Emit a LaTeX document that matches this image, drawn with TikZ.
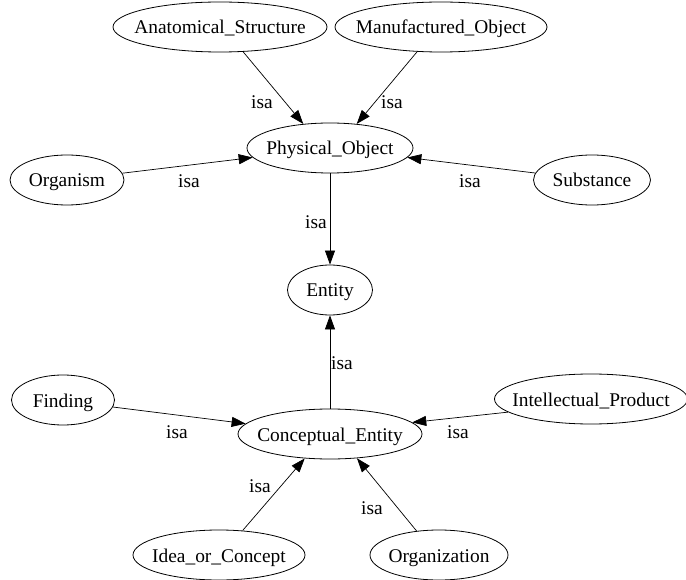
\documentclass[tikz,border=0pt]{standalone}
\usepackage{fontspec}
\setmainfont{Liberation Serif}
\usetikzlibrary{arrows.meta,shapes.geometric}
\newcommand\ntxt[1]{\makebox[0pt]{#1}}
\tikzset{
  ent/.style={draw, ellipse, inner sep=0pt, minimum height=50pt,
    text height=14pt, text depth=0pt, line width=0.8pt},
  lbl/.style={inner sep=0pt},
  isa/.style={draw, line width=0.7pt, -{Triangle[length=14pt,width=10pt]}}
}
\begin{document}
\begin{tikzpicture}[x=1pt,y=-1pt,font=\fontsize{19.4pt}{22pt}\selectfont]
\useasboundingbox (0,0) rectangle (686,580);
% nodes
\node[ent, minimum width=214pt] (anat) at (220,27) {\ntxt{Anatomical\_Structure}};
\node[ent, minimum width=212pt] (manu) at (441,27) {\ntxt{Manufactured\_Object}};
\node[ent, minimum width=166pt] (phys) at (330,148) {\ntxt{Physical\_Object}};
\node[ent, minimum width=114pt] (orga) at (67,180) {\ntxt{Organism}};
\node[ent, minimum width=117pt] (subs) at (592,180) {\ntxt{Substance}};
\node[ent, minimum width=85pt] (enti) at (330,290) {\ntxt{Entity}};
\node[ent, minimum width=184pt] (conc) at (330,434) {\ntxt{Conceptual\_Entity}};
\node[ent, minimum width=103pt] (find) at (63,400) {\ntxt{Finding}};
\node[ent, minimum width=193pt] (intel) at (591,399) {\ntxt{Intellectual\_Product}};
\node[ent, minimum width=172pt] (idea) at (219,555) {\ntxt{Idea\_or\_Concept}};
\node[ent, minimum width=138pt] (orgz) at (439,555) {\ntxt{Organization}};
% edges
\draw[isa] (anat.-47) -- (phys.138);
\draw[isa] (manu.-134) -- (phys.42);
\draw[isa] (orga.7) -- (phys.187);
\draw[isa] (subs.173) -- (phys.-7);
\draw[isa] (phys.south) -- (enti.north);
\draw[isa] (conc.north) -- (enti.south);
\draw[isa] (find.-8) -- (conc.173);
\draw[isa] (intel.189) -- (conc.8);
\draw[isa] (idea.46) -- (conc.-136);
\draw[isa] (orgz.133) -- (conc.-42);
% labels
\node[lbl] (l1) at (262,102) {isa};
\node[lbl] (l2) at (392,102) {isa};
\node[lbl] (l3) at (189,181) {isa};
\node[lbl] (l4) at (470,181) {isa};
\node[lbl] (l5) at (316,222) {isa};
\node[lbl] (l6) at (342,363) {isa};
\node[lbl] (l7) at (177,432) {isa};
\node[lbl] (l8) at (458,432) {isa};
\node[lbl] (l9) at (260,486) {isa};
\node[lbl] (l10) at (372,508) {isa};
\end{tikzpicture}
\end{document}
